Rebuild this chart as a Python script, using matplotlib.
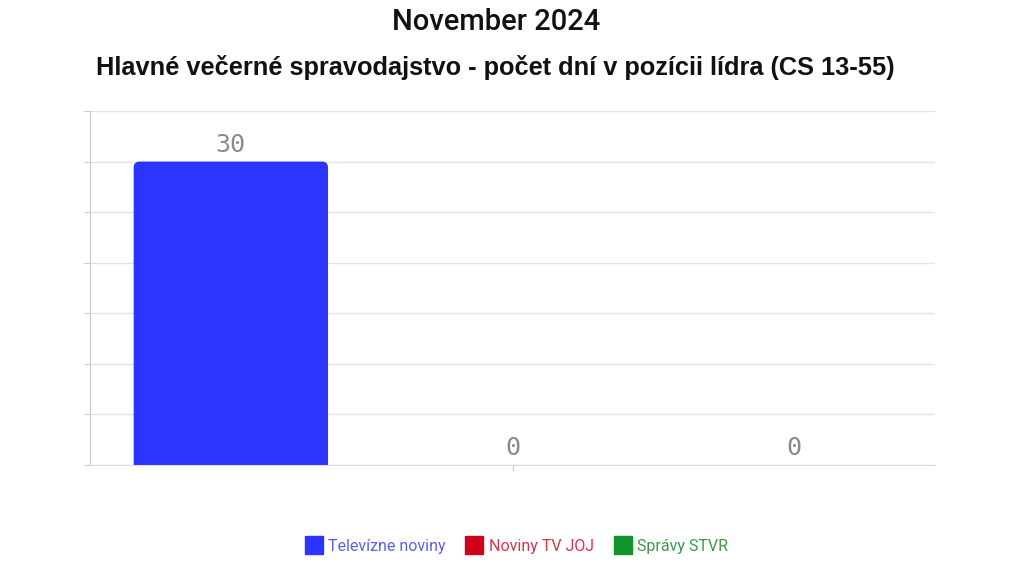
import matplotlib.pyplot as plt
from matplotlib.patches import FancyBboxPatch
from matplotlib.lines import Line2D

categories = ['Televízne noviny', 'Noviny TV JOJ', 'Správy STVR']
values = [30, 0, 0]
colors = ['#2b35ff', '#d0021b', '#11922a']
text_colors = ['#5b5ff0', '#d8334a', '#3a9a48']

fig = plt.figure(figsize=(10.24, 5.76), dpi=100)
ax = fig.add_axes([90/1024, 1-465/576, 845/1024, 354/576])

ax.set_xlim(-0.5, 2.5)
ax.set_ylim(0, 35)
ax.set_yticks(range(0, 36, 5))
ax.set_yticklabels([])
ax.set_xticks([1])
ax.set_xticklabels([])
ax.grid(axis='y', color='#e3e3e3', lw=1)
ax.set_axisbelow(True)
for s in ['top', 'right']:
    ax.spines[s].set_visible(False)
ax.spines['left'].set_color('#c8c8c8')
ax.spines['bottom'].set_color('#dcdcdc')
ax.tick_params(axis='y', length=4, color='#c8c8c8')
ax.tick_params(axis='x', length=4, color='#c8c8c8')

# rounded top corners, bottom hidden below the axis
width = 0.69
rx = 6 / (845/3)
ry = 6 / (354/35)
for i, (v, c) in enumerate(zip(values, colors)):
    if v > 0:
        p = FancyBboxPatch((i - width/2, -2), width, v + 2,
                           boxstyle='round,pad=0,rounding_size=%f' % rx,
                           mutation_aspect=ry/rx, fc=c, ec='none')
        ax.add_patch(p)
    ax.text(i, v + 0.5, str(v), ha='center', va='bottom',
            fontsize=18, color='#8a8a8a', family='DejaVu Sans Mono')

fig.text(496/1024, 1-22/576, 'November 2024', ha='center', va='center',
         fontsize=21, family='Roboto', fontweight='medium', color='#111111')
fig.text(495/1024, 1-67/576, 'Hlavné večerné spravodajstvo - počet dní v pozícii lídra (CS 13-55)',
         ha='center', va='center', fontsize=18.3, fontweight='bold',
         family='Liberation Sans', color='#111111')

handles = [Line2D([], [], marker='s', ls='none', ms=13, mfc=c, mec=c) for c in colors]
fig.legend(handles, categories, loc='center', bbox_to_anchor=(516/1024, 1-546/576),
           ncol=3, frameon=False, labelcolor=text_colors,
           handletextpad=0.3, columnspacing=1.2, handlelength=1.2,
           prop={'family': 'Roboto', 'size': 11.5})

fig.savefig('out.png', dpi=100)
